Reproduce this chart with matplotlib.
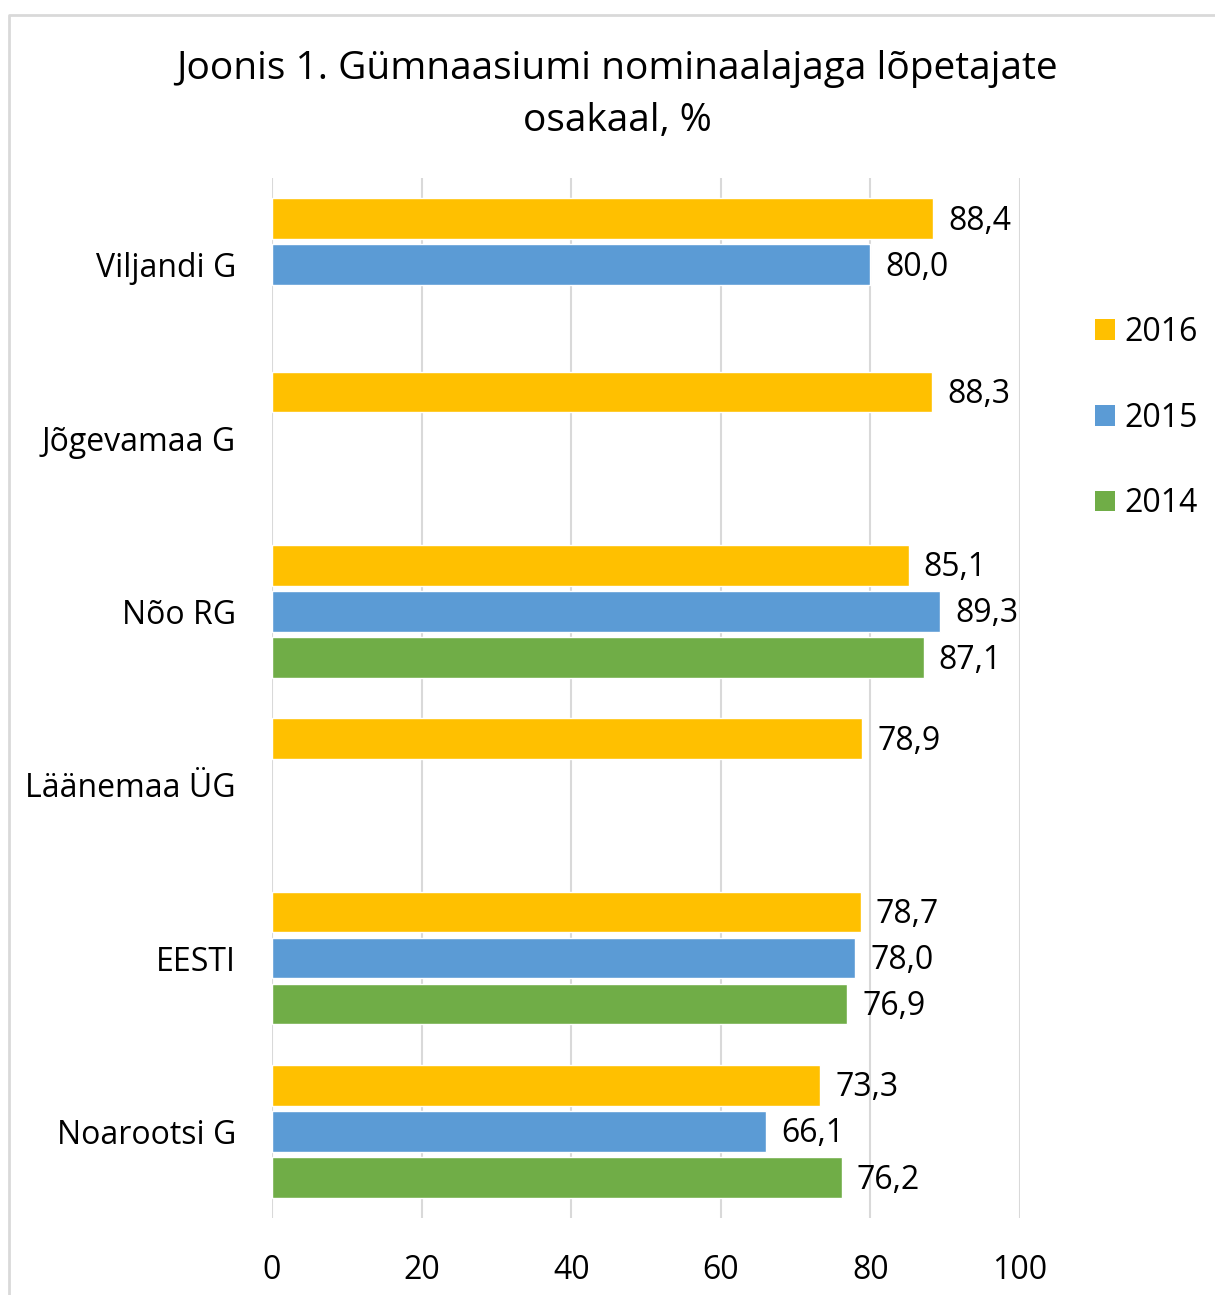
import numpy as np
import matplotlib
matplotlib.use("Agg")
import matplotlib.pyplot as plt
from matplotlib.lines import Line2D
from matplotlib.patches import Patch

plt.rcParams['font.family'] = ['Open Sans', 'DejaVu Sans']

# andmed
koolid = ["Viljandi G", "Jõgevamaa G", "Nõo RG", "Läänemaa ÜG", "EESTI", "Noarootsi G"]
aastad = ["2016", "2015", "2014"]
v2016 = [88.4, 88.3, 85.1, 78.9, 78.7, 73.3]
v2015 = [80.0, None, 89.3, None, 78.0, 66.1]
v2014 = [None, None, 87.1, None, 76.9, 76.2]
varvid = ["#FFC000", "#5B9BD5", "#70AD47"]

fig = plt.figure(figsize=(12.15, 12.95), dpi=100)
ax = fig.add_axes([272/1215, 1 - 1218/1295, 748/1215, (1218-178)/1295])

y = np.arange(len(koolid))
kõrgus = 0.235
nihe = 0.266
for i, (seeria, varv) in enumerate(zip([v2016, v2015, v2014], varvid)):
    for j, v in enumerate(seeria):
        if v is None:
            continue
        yy = y[j] + (i - 1) * nihe
        ax.barh(yy, v, height=kõrgus, color=varv, edgecolor="white", linewidth=1.0, zorder=3)
        ax.text(v + 2, yy + 0.015, f"{v:.1f}".replace(".", ","), va="center", ha="left", fontsize=23)

ax.set_xlim(0, 100)
ax.set_ylim(len(koolid) - 0.5, -0.5)
ax.set_xticks([0, 20, 40, 60, 80, 100])
ax.set_yticks(y)
ax.set_yticklabels(koolid)
ax.tick_params(axis="both", length=0, labelsize=23)
ax.tick_params(axis="x", pad=26)
ax.tick_params(axis="y", pad=26)
ax.grid(axis="x", color="#D9D9D9", linewidth=1.5, zorder=0)
for s in ax.spines.values():
    s.set_visible(False)

fig.text(617/1215, 1 - 95/1295, "Joonis 1. Gümnaasiumi nominaalajaga lõpetajate\nosakaal, %",
         ha="center", va="center", fontsize=28, linespacing=1.48)

käsitsi = [Patch(facecolor=c, edgecolor="none") for c in varvid]
fig.legend(käsitsi, aastad, loc="center left", bbox_to_anchor=(1095/1215, 1 - 418/1295),
           frameon=False, fontsize=23, handlelength=0.62, handleheight=0.62,
           handletextpad=0.3, labelspacing=1.65, borderpad=0, borderaxespad=0)

# raam
fig.add_artist(Line2D([9/1215, 9/1215, 1], [0, 1 - 15/1295, 1 - 15/1295],
                      transform=fig.transFigure, color="#D9D9D9", linewidth=2))

fig.savefig("out.png", dpi=100)
